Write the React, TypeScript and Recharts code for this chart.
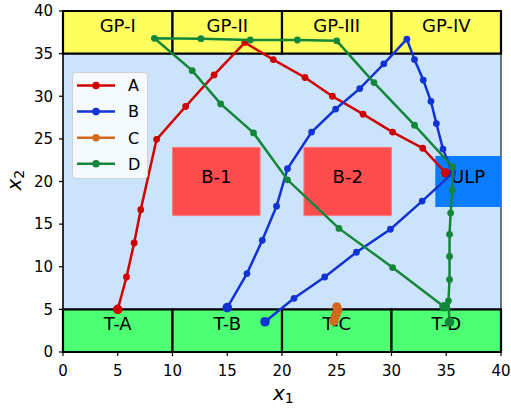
import React from "react"
import { ComposedChart, Scatter, XAxis, YAxis, ReferenceArea, Legend } from "recharts"

document.body.style.margin = "0"

type Pt = { x: number; y: number }

// trajectories
const seriesA: Pt[] = [
  { x: 5.0, y: 5.0 }, { x: 5.8, y: 8.8 }, { x: 6.5, y: 12.8 }, { x: 7.1, y: 16.7 },
  { x: 8.55, y: 24.95 }, { x: 11.2, y: 28.8 }, { x: 13.8, y: 32.5 }, { x: 16.6, y: 36.3 },
  { x: 19.2, y: 34.3 }, { x: 22.1, y: 32.2 }, { x: 24.6, y: 30.0 }, { x: 27.4, y: 27.9 },
  { x: 30.1, y: 25.8 }, { x: 32.85, y: 23.9 }, { x: 34.95, y: 21.0 },
]

const seriesB: Pt[] = [
  { x: 15.0, y: 5.2 }, { x: 16.8, y: 9.2 }, { x: 18.2, y: 13.1 }, { x: 19.5, y: 17.1 },
  { x: 20.5, y: 21.5 }, { x: 22.7, y: 25.8 }, { x: 24.9, y: 28.5 }, { x: 27.1, y: 30.9 },
  { x: 29.3, y: 33.8 }, { x: 31.4, y: 36.7 }, { x: 32.1, y: 34.3 }, { x: 32.9, y: 31.9 },
  { x: 33.6, y: 29.4 }, { x: 34.1, y: 26.8 }, { x: 34.7, y: 23.8 }, { x: 35.6, y: 21.0 },
  { x: 32.8, y: 17.7 }, { x: 29.9, y: 14.4 }, { x: 26.8, y: 11.7 }, { x: 23.9, y: 8.8 },
  { x: 21.1, y: 6.3 }, { x: 18.45, y: 3.55 },
]

const seriesC: Pt[] = [
  { x: 25.0, y: 5.3 }, { x: 25.1, y: 4.9 }, { x: 24.95, y: 4.5 }, { x: 24.85, y: 4.1 },
  { x: 24.75, y: 3.6 },
]

const seriesD: Pt[] = [
  { x: 34.8, y: 5.3 }, { x: 30.1, y: 9.9 }, { x: 25.2, y: 14.5 }, { x: 20.5, y: 20.2 },
  { x: 17.4, y: 25.7 }, { x: 14.4, y: 29.1 }, { x: 11.8, y: 33.0 }, { x: 8.35, y: 36.8 },
  { x: 12.6, y: 36.75 }, { x: 17.1, y: 36.6 }, { x: 21.4, y: 36.6 }, { x: 25.0, y: 36.5 },
  { x: 28.4, y: 31.6 }, { x: 32.1, y: 26.6 }, { x: 35.6, y: 21.7 }, { x: 35.55, y: 19.0 },
  { x: 35.4, y: 16.3 }, { x: 35.3, y: 13.8 }, { x: 35.3, y: 11.2 }, { x: 35.3, y: 8.5 },
  { x: 35.2, y: 6.0 }, { x: 35.3, y: 3.5 },
]

const X_TICKS = [0, 5, 10, 15, 20, 25, 30, 35, 40]
const Y_TICKS = [0, 5, 10, 15, 20, 25, 30, 35, 40]

const CELL_EDGES = [0, 10, 20, 30, 40]
const GP_LABELS = ["GP-I", "GP-II", "GP-III", "GP-IV"]
const T_LABELS = ["T-A", "T-B", "T-C", "T-D"]

const BLOCKS = [
  { name: "B-1", x1: 10, x2: 18, y1: 16, y2: 24 },
  { name: "B-2", x1: 22, x2: 30, y1: 16, y2: 24 },
]
const ULP = { name: "ULP", x1: 34, x2: 40, y1: 17, y2: 23 }

const SERIES = [
  { name: "A", data: seriesA, color: "#d00000" },
  { name: "B", data: seriesB, color: "#1233d4" },
  { name: "C", data: seriesC, color: "#d2691e" },
  { name: "D", data: seriesD, color: "#13863a" },
]

const FONT = "DejaVu Sans"

const boxLabel = (text: string, shift = 0.5) => (props: any) => {
  const { x, y, width, height } = props.viewBox
  return (
    <text x={x + width / 2} y={y + height / 2 + shift} textAnchor="middle" fontSize={18} fill="#000" fontFamily={FONT}>
      {text}
    </text>
  )
}

const makeDot = (data: Pt[], color: string, small: number, big: number) => (props: any) => {
  const p = props.payload || {}
  const first = data[0]
  const last = data[data.length - 1]
  const isEnd = (p.x === first.x && p.y === first.y) || (p.x === last.x && p.y === last.y)
  return <circle cx={props.cx} cy={props.cy} r={isEnd ? big : small} fill={color} />
}

const renderLegend = () => (
  <div
    style={{
      width: 76,
      height: 107,
      background: "rgba(255,255,255,0.8)",
      border: "1px solid #d0d0d0",
      borderRadius: 4,
      boxSizing: "border-box",
      position: "relative",
    }}
  >
    <svg width={76} height={107} style={{ position: "absolute", left: -1, top: -1 }}>
      {SERIES.map((s, i) => {
        const cy = 13.5 + i * 26.1
        return (
          <g key={s.name}>
            <line x1={5} x2={43} y1={cy} y2={cy} stroke={s.color} strokeWidth={2.5} />
            <circle cx={24} cy={cy} r={3.8} fill={s.color} />
            <text x={56} y={cy + 5.8} fontSize={16} fontFamily={FONT} fill="#000">
              {s.name}
            </text>
          </g>
        )
      })}
    </svg>
  </div>
)

const xLabel = (props: any) => {
  const { x, y, width } = props.viewBox
  return (
    <text x={x + width / 2 - 9} y={y + 48} fontFamily={FONT} fill="#000">
      <tspan fontSize={20} fontStyle="italic">x</tspan>
      <tspan fontSize={14} dy={3}>1</tspan>
    </text>
  )
}

const yLabel = (props: any) => {
  const { y, height } = props.viewBox
  const cx = 21
  const cy = y + height / 2 + 9
  return (
    <text x={cx} y={cy} transform={`rotate(-90 ${cx} ${cy})`} fontFamily={FONT} fill="#000">
      <tspan fontSize={20} fontStyle="italic">x</tspan>
      <tspan fontSize={14} dy={3}>2</tspan>
    </text>
  )
}

export default function App() {
  return (
    <div style={{ width: 511, height: 409, position: "relative", background: "#fff" }}>
      <ComposedChart width={511} height={409} margin={{ top: 11, right: 10, left: 0, bottom: 0 }} style={{ fontFamily: FONT }}>
        <XAxis
          type="number"
          dataKey="x"
          domain={[0, 40]}
          ticks={X_TICKS}
          interval={0}
          height={57}
          tickSize={4}
          tickMargin={9}
          axisLine={{ stroke: "#000", strokeWidth: 1.2 }}
          tickLine={{ stroke: "#000", strokeWidth: 1.2 }}
          tick={{ fill: "#000", fontSize: 15 }}
          allowDataOverflow
          label={xLabel}
        />
        <YAxis
          type="number"
          dataKey="y"
          domain={[0, 40]}
          ticks={Y_TICKS}
          interval={0}
          width={63}
          tickSize={4}
          tickMargin={6}
          axisLine={{ stroke: "#000", strokeWidth: 1.2 }}
          tickLine={{ stroke: "#000", strokeWidth: 1.2 }}
          tick={{ fill: "#000", fontSize: 15 }}
          allowDataOverflow
          label={yLabel}
        />

        {/* field background and frame */}
        <ReferenceArea x1={0} x2={40} y1={0} y2={40} fill="#cce4fb" fillOpacity={1} stroke="#222" strokeWidth={1.2} />

        {/* gather points band on top, targets band at the bottom */}
        {GP_LABELS.map((_, i) => (
          <ReferenceArea key={`gp-${i}`} x1={CELL_EDGES[i]} x2={CELL_EDGES[i + 1]} y1={35} y2={40} fill="#ffff5e" fillOpacity={1} stroke="#000" strokeWidth={2.2} />
        ))}
        {T_LABELS.map((_, i) => (
          <ReferenceArea key={`t-${i}`} x1={CELL_EDGES[i]} x2={CELL_EDGES[i + 1]} y1={0} y2={5} fill="#4dff73" fillOpacity={1} stroke="#000" strokeWidth={2.2} />
        ))}

        {BLOCKS.map((b) => (
          <ReferenceArea key={b.name} x1={b.x1} x2={b.x2} y1={b.y1} y2={b.y2} fill="#ff4d4f" fillOpacity={1} stroke="#ff7c7c" strokeWidth={1} />
        ))}
        <ReferenceArea x1={ULP.x1} x2={ULP.x2} y1={ULP.y1} y2={ULP.y2} fill="#0a7dff" fillOpacity={1} stroke="none" />

        {SERIES.map((s) => (
          <Scatter
            key={s.name}
            name={s.name}
            data={s.data}
            fill={s.color}
            line={{ stroke: s.color, strokeWidth: s.name === "C" ? 3.5 : 2.5 }}
            lineType="joint"
            shape={s.name === "C" ? makeDot(s.data, s.color, 4.6, 4.6) : makeDot(s.data, s.color, 3.4, 4.8)}
            isAnimationActive={false}
          />
        ))}

        {/* text sits above the trajectories */}
        {GP_LABELS.map((t, i) => (
          <ReferenceArea key={`gpl-${i}`} x1={CELL_EDGES[i]} x2={CELL_EDGES[i + 1]} y1={35} y2={40} fill="none" stroke="none" label={boxLabel(t, 0)} />
        ))}
        {T_LABELS.map((t, i) => (
          <ReferenceArea key={`tl-${i}`} x1={CELL_EDGES[i]} x2={CELL_EDGES[i + 1]} y1={0} y2={5} fill="none" stroke="none" label={boxLabel(t, -1)} />
        ))}
        {BLOCKS.map((b) => (
          <ReferenceArea key={`${b.name}-l`} x1={b.x1} x2={b.x2} y1={b.y1} y2={b.y2} fill="none" stroke="none" label={boxLabel(b.name, 1)} />
        ))}
        <ReferenceArea x1={ULP.x1} x2={ULP.x2} y1={ULP.y1} y2={ULP.y2} fill="none" stroke="none" label={boxLabel(ULP.name, 1)} />

        <Legend
          content={renderLegend}
          layout="horizontal"
          verticalAlign="middle"
          align="center"
          wrapperStyle={{ left: 72, top: 72, width: 76, height: 107 }}
        />
      </ComposedChart>
    </div>
  )
}
